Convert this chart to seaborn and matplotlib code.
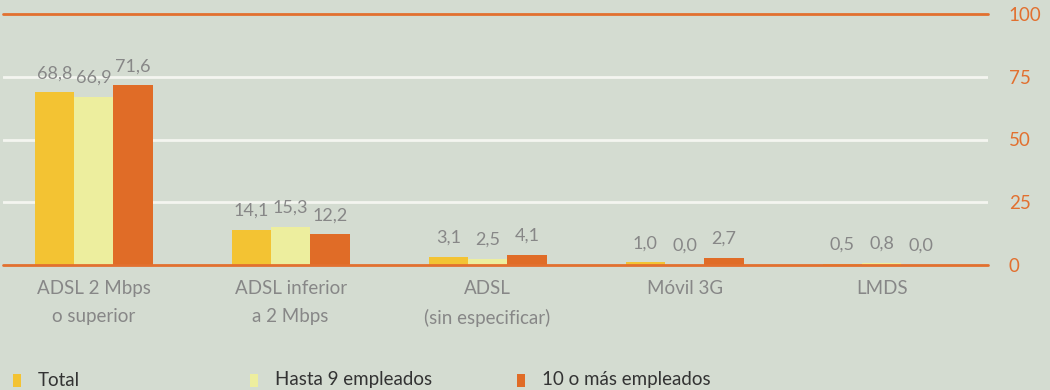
import matplotlib
matplotlib.use("Agg")
import matplotlib.pyplot as plt
import seaborn as sns
import pandas as pd
from matplotlib.patches import Rectangle

# Connection types and share of companies (%) by company size
categories = ["ADSL 2 Mbps\no superior", "ADSL inferior\na 2 Mbps", "ADSL\n(sin especificar)", "Móvil 3G", "LMDS"]
series_names = ["Total", "Hasta 9 empleados", "10 o más empleados"]
total = [68.8, 14.1, 3.1, 1.0, 0.5]
hasta_9 = [66.9, 15.3, 2.5, 0.0, 0.8]
diez_o_mas = [71.6, 12.2, 4.1, 2.7, 0.0]
y_ticks = [0, 25, 50, 75, 100]

colors = ["#F3C333", "#EDEE9E", "#E06C27"]
bg = "#D4DCD1"
orange = "#E2702F"
gray = "#878787"

sns.set_theme(style="white")
plt.rcParams["font.family"] = ["Lato", "DejaVu Sans"]

df = pd.DataFrame({
    "categoria": categories * 3,
    "serie": [s for s in series_names for _ in categories],
    "valor": total + hasta_9 + diez_o_mas,
})

fig = plt.figure(figsize=(10.5, 3.9), dpi=100, facecolor=bg)
ax = fig.add_axes([3 / 1050, 1 - 265 / 390, 985 / 1050, 251 / 390])
ax.set_facecolor(bg)

sns.barplot(data=df, x="categoria", y="valor", hue="serie", order=categories,
            hue_order=series_names, palette=colors, width=0.6, saturation=1,
            linewidth=0, legend=False, ax=ax, zorder=3)

ax.set_xlim(-0.46, 4.54)
ax.set_ylim(0, 100)

# horizontal reference lines
for t in y_ticks:
    if t in (0, 100):
        ax.axhline(t, color=orange, lw=2, zorder=4 if t == 0 else 2, clip_on=False)
    else:
        ax.axhline(t, color="#F4F5F0", lw=2, zorder=1)

for s in ax.spines.values():
    s.set_visible(False)

ax.yaxis.tick_right()
ax.set_yticks(y_ticks)
ax.set_yticklabels([str(t) for t in y_ticks])
ax.tick_params(axis="y", length=0, pad=15, labelsize=13.5, labelcolor=orange)
ax.tick_params(axis="x", length=0, pad=11, labelsize=13.5, labelcolor=gray)
for lbl in ax.get_xticklabels():
    lbl.set_linespacing(1.75)
for lbl in ax.get_yticklabels():
    lbl.set_va("center_baseline")
ax.set_xlabel("")
ax.set_ylabel("")

# value labels above each bar
for container in ax.containers:
    for bar in container:
        h = bar.get_height()
        ax.annotate(f"{h:.1f}".replace(".", ","),
                    (bar.get_x() + bar.get_width() / 2, h),
                    xytext=(0, 8), textcoords="offset points",
                    ha="center", va="bottom", fontsize=13, color=gray,
                    zorder=5)

# legend row along the bottom
legend_x = [13, 250, 517]
for x0, name, c in zip(legend_x, series_names, colors):
    fig.patches.append(Rectangle((x0 / 1050, 1 - 387 / 390), 8 / 1050, 13 / 390,
                                 transform=fig.transFigure, facecolor=c,
                                 edgecolor="none"))
    fig.text((x0 + 25) / 1050, 1 - 380 / 390, name, ha="left", va="center",
             fontsize=13.5, color="#333333")

fig.savefig("out.png", dpi=100, facecolor=bg)
